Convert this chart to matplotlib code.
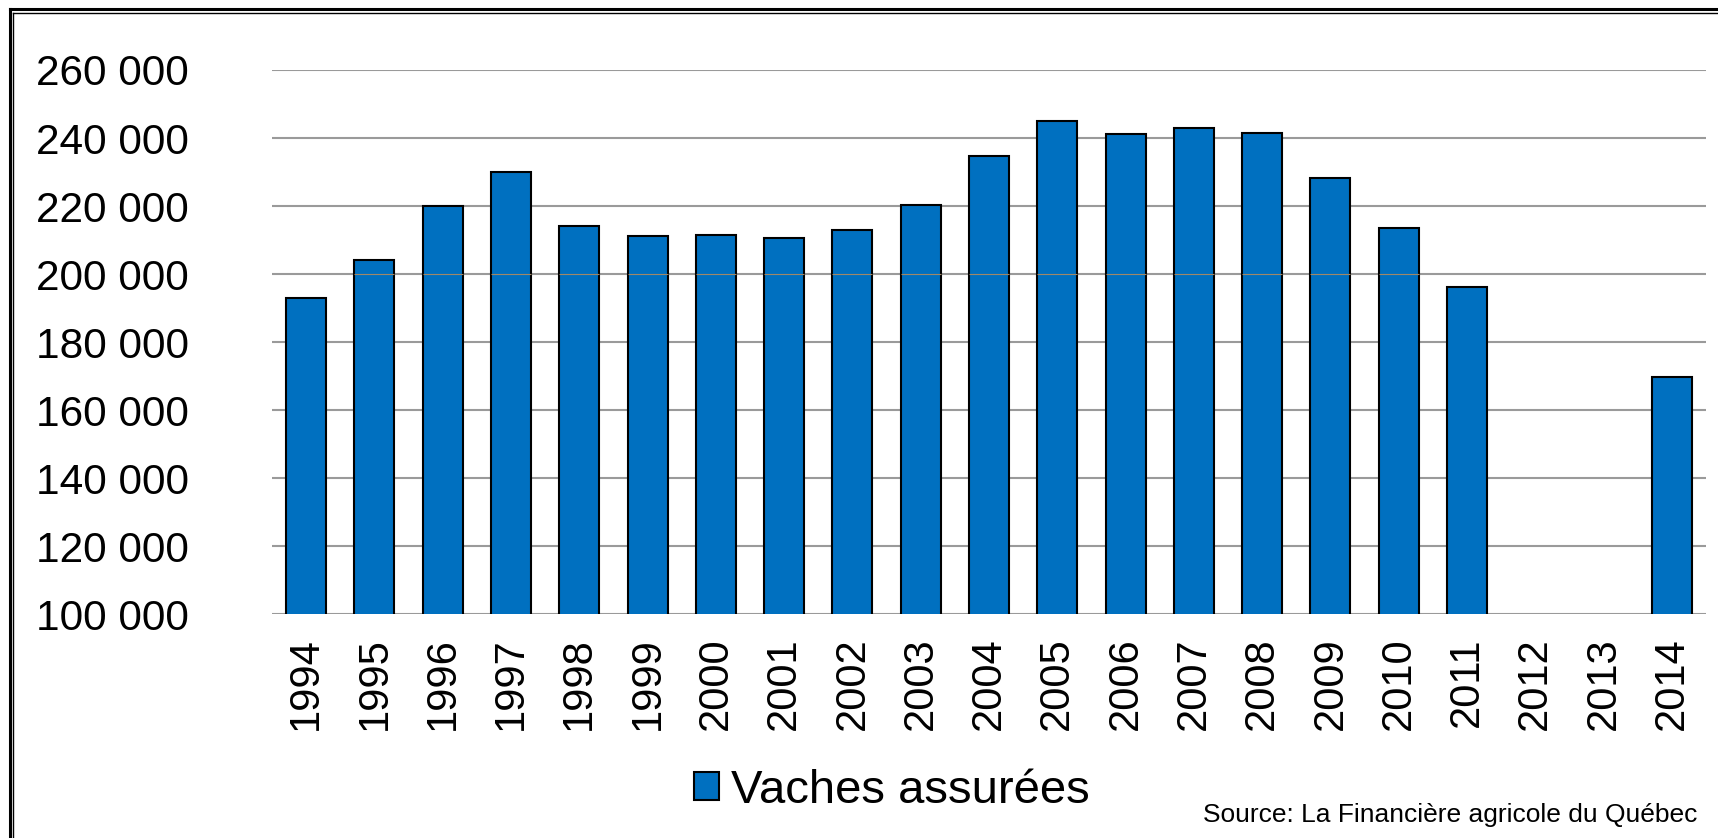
import numpy as np
import matplotlib
matplotlib.use('Agg')
import matplotlib.pyplot as plt
from matplotlib.patches import Patch
from matplotlib.lines import Line2D

# data
years = ['1994', '1995', '1996', '1997', '1998', '1999', '2000', '2001', '2002', '2003',
         '2004', '2005', '2006', '2007', '2008', '2009', '2010', '2011', '2012', '2013', '2014']
vaches = [193000, 204000, 220000, 230000, 214000, 211300, 211600, 210700, 212800, 220300,
          234800, 245000, 241100, 242900, 241600, 228300, 213500, 196200, np.nan, np.nan, 169800]
yticks = [100000, 120000, 140000, 160000, 180000, 200000, 220000, 240000, 260000]
ytick_labels = ['100 000', '120 000', '140 000', '160 000', '180 000', '200 000',
                '220 000', '240 000', '260 000']

plt.rcParams['font.family'] = ['Liberation Sans', 'DejaVu Sans']

W, H = 1718, 838
fig = plt.figure(figsize=(W / 100, H / 100), dpi=100)
ax = fig.add_axes([272 / W, 1 - 614 / H, (1706 - 272) / W, (614 - 70) / H])

x = np.arange(len(years))
bw = 0.585
ax.bar(x, vaches, width=bw, bottom=0, color='#0070C0', edgecolor='black',
       linewidth=1.5, zorder=3)
ax.set_ylim(100000, 260000)
ax.set_xlim(-0.5, len(years) - 0.5)

ax.set_yticks(yticks)
ax.set_yticklabels(ytick_labels, fontsize=30.5)
ax.set_xticks(x)
ax.set_xticklabels(years, rotation=90, fontsize=30)
ax.tick_params(axis='y', length=0, pad=60)
ax.tick_params(axis='x', length=0, pad=17)
for s in ax.spines.values():
    s.set_visible(False)
ax.yaxis.grid(True, color='#9a9a9a', linewidth=1.5, zorder=0)
ax.set_axisbelow(True)

# faint line that shows through the bars at 200 000
v = np.array(vaches)
over = np.nan_to_num(v) > 200000
ax.hlines([200000] * int(over.sum()), x[over] - bw / 2, x[over] + bw / 2,
          color='#a08868', linewidth=0.8, zorder=4)

fig.legend(handles=[Patch(facecolor='#0070C0', edgecolor='black', linewidth=1.5)],
           labels=['Vaches assurées'], loc='center',
           bbox_to_anchor=(892 / W, 1 - 791 / H), frameon=False, fontsize=34,
           handlelength=0.52, handleheight=0.52, handletextpad=0.25)

fig.text(1697 / W, 1 - 815 / H, 'Source: La Financière agricole du Québec',
         ha='right', va='center', fontsize=19)

# double frame (top and left only visible)
fig.add_artist(Line2D([9.5 / W, 9.5 / W], [0, 1 - 9 / H], color='black', lw=2.2,
                      transform=fig.transFigure))
fig.add_artist(Line2D([9.5 / W, 1], [1 - 9 / H, 1 - 9 / H], color='black', lw=2.2,
                      transform=fig.transFigure))
fig.add_artist(Line2D([13.3 / W, 13.3 / W], [0, 1 - 13 / H], color='black', lw=1.0,
                      transform=fig.transFigure))
fig.add_artist(Line2D([13.3 / W, 1], [1 - 13 / H, 1 - 13 / H], color='black', lw=1.0,
                      transform=fig.transFigure))

fig.savefig('out.png', dpi=100)
